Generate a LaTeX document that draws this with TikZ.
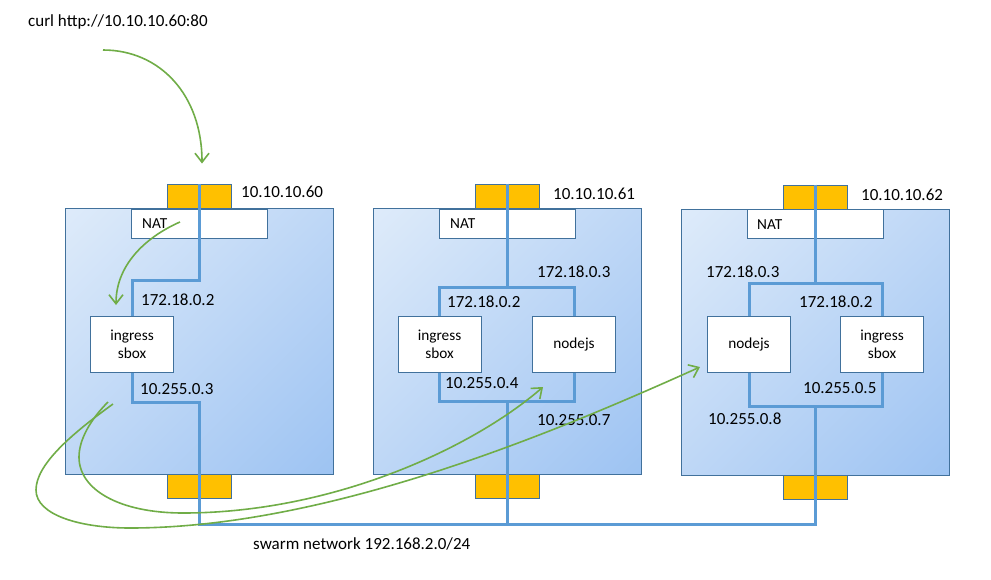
\documentclass[tikz,border=0pt]{standalone}
\usepackage{fontspec}
\setmainfont{Carlito}
\usetikzlibrary{arrows.meta,shadings}
\definecolor{netblue}{HTML}{5B9BD5}
\definecolor{edgeblue}{HTML}{41719C}
\definecolor{hostA}{HTML}{DEEBFA}
\definecolor{hostB}{HTML}{9DC3F2}
\definecolor{hostM}{HTML}{BED7F6}
\definecolor{orng}{HTML}{FFC000}
\definecolor{grn}{HTML}{70AD47}
\newcommand\myipfont{\fontsize{17}{20}\selectfont}
\newcommand\myboxfont{\fontsize{15.3}{18}\selectfont}
\pgfdeclarelayer{bglayer}
\pgfdeclarelayer{midlayer}
\pgfsetlayers{bglayer,midlayer,main}
\begin{document}
\begin{tikzpicture}[x=1pt,y=-1pt,
  hostbox/.style={shade, draw=edgeblue, line width=0.9pt, upper left=hostA, lower right=hostB, upper right=hostM, lower left=hostM, minimum width=268pt, minimum height=266pt, inner sep=0pt},
  port/.style={draw=edgeblue, line width=0.9pt, fill=orng, minimum width=64pt, minimum height=24pt, inner sep=0pt},
  natbox/.style={draw=edgeblue, line width=0.9pt, fill=white, minimum width=136pt, minimum height=29pt, inner sep=0pt},
  ctr/.style={draw=edgeblue, line width=0.9pt, fill=white, minimum width=83pt, minimum height=56pt, inner sep=0pt, align=center, font=\myboxfont},
  ip/.style={anchor=base west, inner sep=0pt, font=\myipfont},
  natlbl/.style={anchor=base west, inner sep=0pt, font=\myboxfont},
  net/.style={draw=netblue, line width=3pt},
  flow/.style={draw=grn, line width=1.6pt, -{Straight Barb[length=9pt,width=14pt]}}
]
\useasboundingbox (0,0) rectangle (991,579);

% ---------- hosts, ports, NAT (background layer)
\begin{pgfonlayer}{bglayer}
\fill[white] (0,0) rectangle (991,579);
\node[hostbox] (h1) at (199,341) {};
\node[hostbox] (h2) at (507,341) {};
\node[hostbox] (h3) at (815,342) {};
\node[port] (pt1) at (199,196) {};
\node[port] (pt2) at (507,196) {};
\node[port] (pt3) at (815,197) {};
\node[port] (pb1) at (199,486.5) {};
\node[port] (pb2) at (507,486.5) {};
\node[port] (pb3) at (815,487.5) {};
\node[natbox] (nat1) at (199,223.5) {};
\node[natbox] (nat2) at (507,223.5) {};
\node[natbox] (nat3) at (815,224) {};
\end{pgfonlayer}

% ---------- containers
\node[ctr] (in1) at (132,344) {ingress\\sbox};
\node[ctr] (in2) at (439.5,344) {ingress\\sbox};
\node[ctr] (nj2) at (574,344) {nodejs};
\node[ctr] (nj3) at (749,344.5) {nodejs};
\node[ctr] (in3) at (882,344) {ingress\\sbox};

% ---------- network lines
\coordinate (bus1) at (199,524);
\coordinate (bus2) at (507,524);
\coordinate (bus3) at (815,524);
\coordinate (r2) at (507,287);
\coordinate (s2) at (507,401);
\coordinate (r3) at (815,283);
\coordinate (s3) at (815,406);
\begin{pgfonlayer}{midlayer}
\draw[net] (pt1.north) -- (199,280) -| (in1.north);
\draw[net] (in1.south) |- (199,402) -- (bus1) -- (bus3) -- (s3);
\draw[net] (pt2.north) -- (r2);
\draw[net] (in2.north) -- (in2.north |- r2) -- (nj2.north |- r2) -- (nj2.north);
\draw[net] (in2.south) -- (in2.south |- s2) -- (nj2.south |- s2) -- (nj2.south);
\draw[net] (s2) -- (bus2);
\draw[net] (pt3.north) -- (r3);
\draw[net] (nj3.north) -- (nj3.north |- r3) -- (in3.north |- r3) -- (in3.north);
\draw[net] (nj3.south) -- (nj3.south |- s3) -- (in3.south |- s3) -- (in3.south);
\end{pgfonlayer}

% ---------- labels
\node[natlbl] (nl1) at (142,228) {NAT};
\node[natlbl] (nl2) at (450,228) {NAT};
\node[natlbl] (nl3) at (757,229) {NAT};
\node[ip] (curl) at (28,26.5) {curl http://10.10.10.60:80};
\node[ip] (a1) at (241,197) {10.10.10.60};
\node[ip] (a2) at (553,199) {10.10.10.61};
\node[ip] (a3) at (861,200) {10.10.10.62};
\node[ip] (l1a) at (141,305) {172.18.0.2};
\node[ip] (l1b) at (140,394) {10.255.0.3};
\node[ip] (l2a) at (537,277) {172.18.0.3};
\node[ip] (l2b) at (447,307) {172.18.0.2};
\node[ip] (l2c) at (445,388) {10.255.0.4};
\node[ip] (l2d) at (537,425) {10.255.0.7};
\node[ip] (l3a) at (706,277) {172.18.0.3};
\node[ip] (l3b) at (799,307) {172.18.0.2};
\node[ip] (l3c) at (803,393) {10.255.0.5};
\node[ip] (l3d) at (708,424) {10.255.0.8};
\node[ip] (sw) at (253,549) {swarm network 192.168.2.0/24};

% ---------- flows
\coordinate (c0) at (103,50);
\coordinate (c1) at (202,163.5);
\draw[flow] (c0) .. controls (160,50) and (202,95) .. (c1);
\coordinate (n0) at (180,222);
\coordinate (n1) at (116,305);
\draw[flow] (n0) .. controls (150,235) and (116,262) .. (n1);
\coordinate (w0) at (108,402);
\coordinate (w1) at (543,387);
\draw[flow] (w0) .. controls (90,420) and (79,440) .. (79,457)
  .. controls (79,490) and (120,513) .. (183,513)
  .. controls (330,513) and (470,450) .. (w1);
\coordinate (v0) at (113,404);
\coordinate (v1) at (700,367);
\draw[flow] (v0) .. controls (70,435) and (36,465) .. (36,490)
  .. controls (36,515) and (80,528) .. (130,528)
  .. controls (330,528) and (560,430) .. (v1);
\end{tikzpicture}
\end{document}
